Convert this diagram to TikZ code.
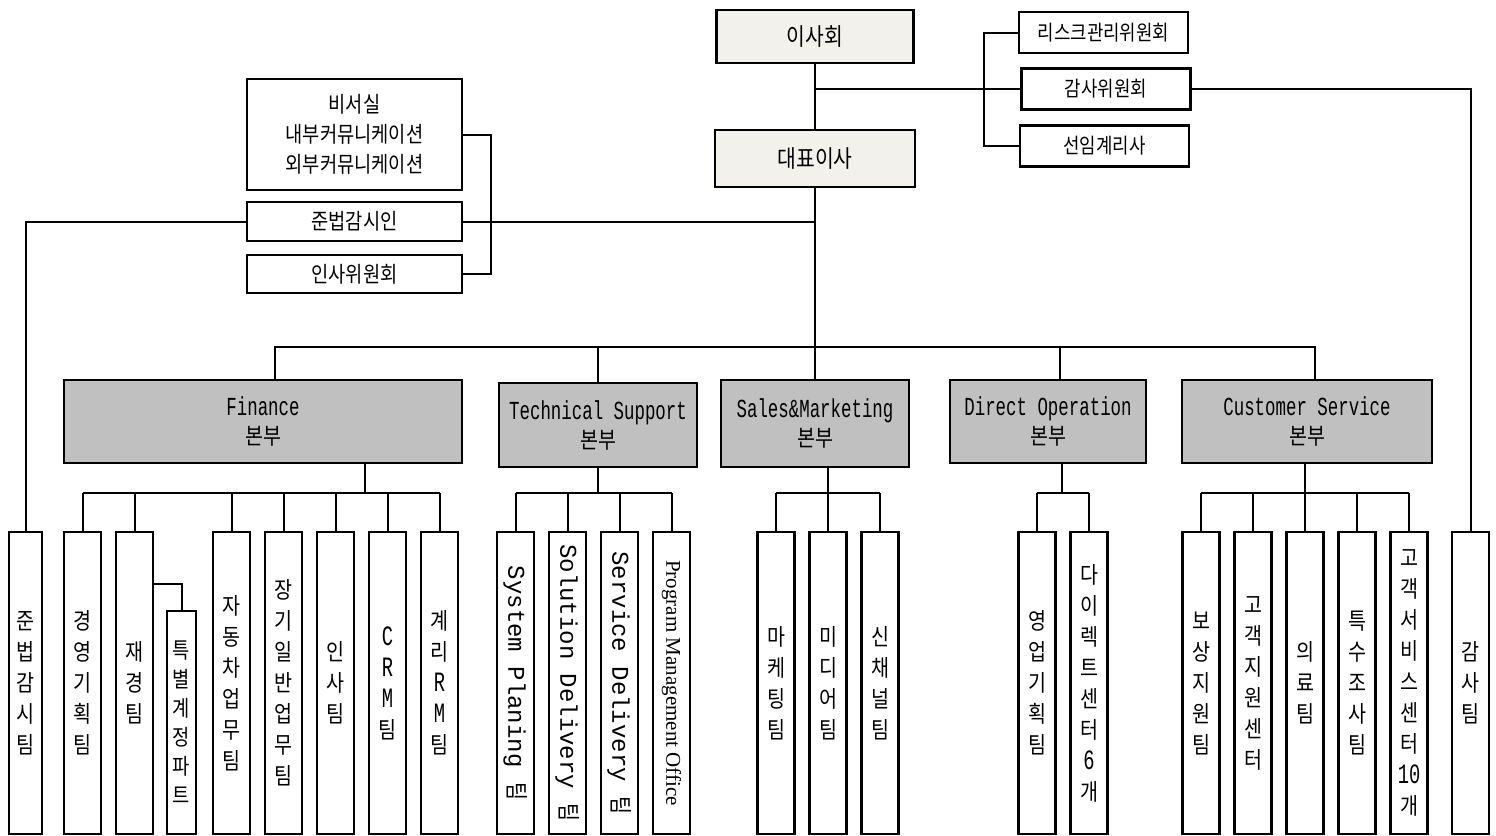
\documentclass[tikz,border=0pt]{standalone}
\usepackage{fontspec}
\setmainfont{Noto Sans CJK KR}[FakeStretch=0.85]
\newfontfamily\deptfont{Liberation Mono}[FakeStretch=0.67]
\newfontfamily\rotfont{Liberation Mono}
\newfontfamily\pmofont{Liberation Serif}
\usetikzlibrary{positioning}
\definecolor{boardfill}{HTML}{F2F1EC}
\definecolor{deptfill}{HTML}{C0C0C0}
\newcommand\deptlat[1]{{\deptfont\fontsize{13}{14.5}\selectfont #1}}
\newcommand\lat[1]{{\deptfont\fontsize{14}{15.5}\selectfont #1}}
\newcommand\rotlat[1]{{\rotfont\fontsize{12}{14}\selectfont #1}}
\tikzset{
   topbox/.style={draw, line width=1.3pt, fill=boardfill, inner sep=0pt, font=\fontsize{12}{14}\selectfont},
   combox/.style={draw, line width=1.2pt, inner sep=0pt, minimum width=84.5pt, minimum height=20.5pt, font=\fontsize{10.5}{12}\selectfont},
   sidebox/.style={draw, line width=1.2pt, inner sep=0pt, minimum width=107.5pt, align=center, font=\fontsize{11}{15}\selectfont},
   deptbox/.style={draw, line width=1.4pt, fill=deptfill, inner sep=0pt, align=center, font=\fontsize{11.5}{14.5}\selectfont},
   col/.style={draw, line width=1.2pt, inner sep=0pt, outer sep=0pt, minimum width=18.5pt, minimum height=151pt, anchor=north, align=center, font=\fontsize{11.5}{15.5}\selectfont},
   link/.style={line width=1pt},
}
\begin{document}
\begin{tikzpicture}[x=0.5pt, y=-0.5pt]
   \useasboundingbox (0,0) rectangle (1496,836);
   \node[topbox, minimum width=98.5pt, minimum height=26.5pt] (board) at (815,36.5) {이사회};
   \node[topbox, minimum width=100pt, minimum height=28.5pt] (ceo) at (815,158.5) {대표이사};
   \node[combox] (risk) at (1103.5,32.5) {리스크관리위원회};
   \node[combox] (audit) at (1106,89) {감사위원회};
   \node[combox] (actuary) at (1104.5,146) {선임계리사};
   \node[sidebox, minimum height=55.5pt] (secr) at (354.5,134.5) {비서실\\내부커뮤니케이션\\외부커뮤니케이션};
   \node[sidebox, minimum height=19.5pt] (compl) at (354.5,221.5) {준법감시인};
   \node[sidebox, minimum height=19pt] (hrc) at (354.5,274) {인사위원회};

   \node[deptbox, minimum width=199pt, minimum height=41.5pt] (fin) at (263,421.5) {\deptlat{Finance}\\본부};
   \node[deptbox, minimum width=99pt, minimum height=42pt] (tech) at (598,425) {\deptlat{Technical Support}\\본부};
   \node[deptbox, minimum width=94pt, minimum height=43.5pt] (sales) at (815,423.5) {\deptlat{Sales\&Marketing}\\본부};
   \node[deptbox, minimum width=98pt, minimum height=41.5pt] (direct) at (1048,421.5) {\deptlat{Direct Operation}\\본부};
   \node[deptbox, minimum width=125pt, minimum height=41.5pt] (cs) at (1307,421.5) {\deptlat{Customer Service}\\본부};

   \node[col, minimum width=16.5pt] (compteam) at (25.5,532) {준\\법\\감\\시\\팀};
   \node[col] (planteam) at (82.5,532) {경\\영\\기\\획\\팀};
   \node[col, right=7.5pt of planteam] (acctteam) {재\\경\\팀};
   \node[col, minimum width=14.5pt, minimum height=111.5pt, font=\fontsize{11}{14.5}\selectfont] (sparteam) at (181.5,611) {특\\별\\계\\정\\파\\트};
   \node[col, right=30pt of acctteam] (autoteam) {자\\동\\차\\업\\무\\팀};
   \node[col, right=7.5pt of autoteam] (ltteam) {장\\기\\일\\반\\업\\무\\팀};
   \node[col, right=7.5pt of ltteam] (hrteam) {인\\사\\팀};
   \node[col, right=7.5pt of hrteam] (crmteam) {\lat{C}\\\lat{R}\\\lat{M}\\팀};
   \node[col, right=7.5pt of crmteam] (arteam) {계\\리\\\lat{R}\\\lat{M}\\팀};

   \node[col] (sysplan) at (515.5,532) {\rotatebox{-90}{\rotlat{System Planing }팀}};
   \node[col, right=7.5pt of sysplan] (soldel) {\rotatebox{-90}{\rotlat{Solution Delivery }팀}};
   \node[col, right=7.5pt of soldel] (svcdel) {\rotatebox{-90}{\rotlat{Service Delivery }팀}};
   \node[col, right=7.5pt of svcdel] (pmo) {\rotatebox{-90}{\pmofont\fontsize{10.5}{12}\selectfont Program Management Office}};

   \node[col] (mkt) at (776,532) {마\\케\\팅\\팀};
   \node[col, right=7.5pt of mkt] (media) {미\\디\\어\\팀};
   \node[col, right=7.5pt of media] (newch) {신\\채\\널\\팀};

   \node[col] (salesplan) at (1037,532) {영\\업\\기\\획\\팀};
   \node[col, right=7.5pt of salesplan] (directctr) {다\\이\\렉\\트\\센\\터\\\lat{6}\\개};

   \node[col] (claim) at (1201,532) {보\\상\\지\\원\\팀};
   \node[col, right=7.5pt of claim] (custsup) {고\\객\\지\\원\\센\\터};
   \node[col, right=7.5pt of custsup] (medical) {의\\료\\팀};
   \node[col, right=7.5pt of medical] (siu) {특\\수\\조\\사\\팀};
   \node[col, right=7.5pt of siu] (custsvc) {고\\객\\서\\비\\스\\센\\터\\\lat{10}\\개};
   \node[col] (auditteam) at (1470.5,532) {감\\사\\팀};

   \coordinate (bus) at (0,347);
   \coordinate (subbus) at (0,493);
   \coordinate (finhub) at (365,493);
   \coordinate (dohub) at (1062,493);
   \coordinate (sparthub) at (154,584);

   \draw[link] (board) -- (ceo) -- (sales);
   \draw[link] (audit.west) -- (audit.west -| ceo.north);
   \draw[link] (risk.west) -- ++(-34,0) |- (actuary.west);
   \draw[link] (audit.east) -| (auditteam.north);
   \draw[link] (secr.east) -- ++(28,0) |- (hrc.east);
   \draw[link] (compl.east) -- (compl.east -| ceo.south);
   \draw[link] (compl.west) -| (compteam.north);
   \draw[link] ([xshift=6pt]fin.north) -- ([xshift=6pt]fin.north |- bus) -- ([xshift=4pt]cs.north |- bus) -- ([xshift=4pt]cs.north);
   \draw[link] (tech.north) -- (tech.north |- bus);
   \draw[link] ([xshift=6pt]direct.north) -- ([xshift=6pt]direct.north |- bus);

   \draw[link] (finhub |- fin.south) -- (finhub);
   \draw[link] (planteam.north |- subbus) -- (arteam.north |- subbus);
   \foreach \team in {planteam,acctteam,autoteam,ltteam,hrteam,crmteam,arteam}
      \draw[link] (\team.north |- subbus) -- (\team.north);
   \draw[link] (acctteam.east |- sparthub) -| (sparteam.north);

   \draw[link] (tech.south) -- (tech.south |- subbus);
   \draw[link] (sysplan.north |- subbus) -- (pmo.north |- subbus);
   \foreach \team in {sysplan,soldel,svcdel,pmo}
      \draw[link] (\team.north |- subbus) -- (\team.north);

   \draw[link] (media.north |- sales.south) -- (media.north);
   \draw[link] (mkt.north |- subbus) -- (newch.north |- subbus);
   \foreach \team in {mkt,newch}
      \draw[link] (\team.north |- subbus) -- (\team.north);

   \draw[link] (dohub |- direct.south) -- (dohub);
   \draw[link] (salesplan.north |- subbus) -- (directctr.north |- subbus);
   \foreach \team in {salesplan,directctr}
      \draw[link] (\team.north |- subbus) -- (\team.north);

   \draw[link] (medical.north |- cs.south) -- (medical.north);
   \draw[link] (claim.north |- subbus) -- (custsvc.north |- subbus);
   \foreach \team in {claim,custsup,siu,custsvc}
      \draw[link] (\team.north |- subbus) -- (\team.north);
\end{tikzpicture}
\end{document}
